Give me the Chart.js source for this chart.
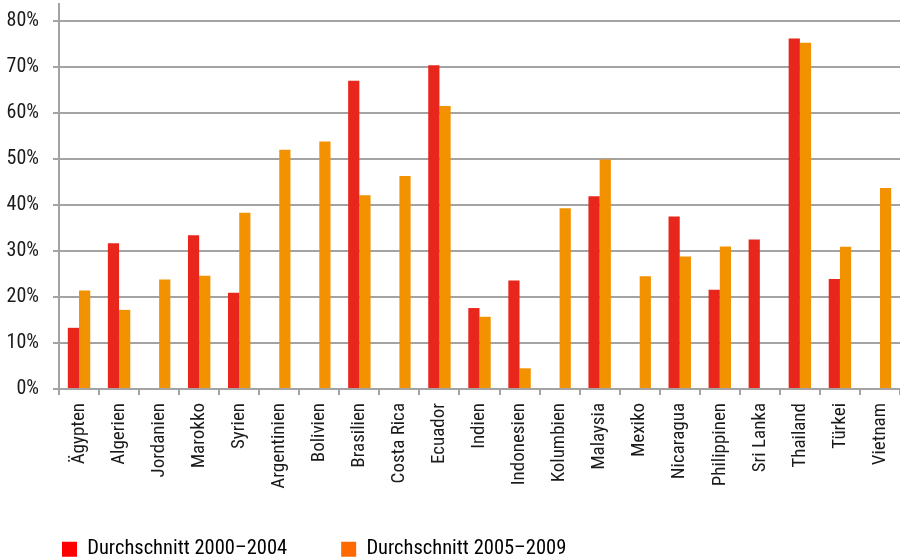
<!DOCTYPE html>
<html>
<head>
<meta charset="utf-8">
<script src="https://cdn.jsdelivr.net/npm/chart.js@4"></script>
<style>
  html, body { margin: 0; padding: 0; background: #fff; }
  #wrap { width: 900px; height: 560px; }
</style>
</head>
<body>
<div id="wrap"><canvas id="c" width="900" height="560"></canvas></div>
<script>
const categories = ["Ägypten","Algerien","Jordanien","Marokko","Syrien","Argentinien","Bolivien","Brasilien","Costa Rica","Ecuador","Indien","Indonesien","Kolumbien","Malaysia","Mexiko","Nicaragua","Philippinen","Sri Lanka","Thailand","Türkei","Vietnam"];
const avg2000_2004 = [13.3, 31.7, null, 33.4, 20.9, null, null, 67.0, null, 70.4, 17.6, 23.6, null, 41.9, null, 37.5, 21.6, 32.5, 76.2, 23.9, null];
const avg2005_2009 = [21.4, 17.2, 23.8, 24.6, 38.3, 52.0, 53.8, 42.1, 46.3, 61.5, 15.7, 4.5, 39.3, 49.9, 24.5, 28.8, 31.0, null, 75.3, 30.9, 43.7];
const seriesNames = ["Durchschnitt 2000–2004", "Durchschnitt 2005–2009"];
const yTicks = [0, 10, 20, 30, 40, 50, 60, 70, 80];

const barColors = ["#e8261c", "#f39200"];
const legendColors = ["#ff0000", "#ff6a00"];
const gridColor = "#a3a3a3";
const textColor = "#1a1a1a";

// position tweaks for the legend block (keeps chart area fixed)
const legendFix = {
  id: "legendFix",
  beforeLayout(chart) {
    const lg = chart.legend;
    if (lg && !lg._patched) {
      const f = lg.fit.bind(lg);
      lg.fit = function () { f(); this.height = 65; };
      lg._patched = true;
    }
  },
  afterLayout(chart) {
    const lg = chart.legend;
    if (!lg) return;
    lg.left = 8; lg.right = 908; lg.width = 900;
    lg.top = 485; lg.bottom = 580; lg.height = 95;
  }
};

new Chart(document.getElementById("c"), {
  type: "bar",
  data: {
    labels: categories,
    datasets: [
      { label: seriesNames[0], data: avg2000_2004, backgroundColor: barColors[0], borderWidth: 0 },
      { label: seriesNames[1], data: avg2005_2009, backgroundColor: barColors[1], borderWidth: 0 }
    ]
  },
  plugins: [legendFix],
  options: {
    responsive: false,
    animation: false,
    devicePixelRatio: 1,
    layout: { autoPadding: false, padding: { left: 0, top: 4, right: -3, bottom: 0 } },
    datasets: { bar: { barPercentage: 1.0, categoryPercentage: 0.56 } },
    plugins: {
      tooltip: { enabled: false },
      legend: {
        position: "bottom",
        align: "start",
        labels: {
          boxWidth: 15,
          boxHeight: 15,
          padding: 54,
          color: textColor,
          font: { family: "Roboto", size: 20.5, weight: "condensed" },
          generateLabels: (chart) => chart.data.datasets.map((ds, i) => ({
            text: ds.label,
            fillStyle: legendColors[i],
            strokeStyle: legendColors[i],
            lineWidth: 0,
            hidden: false,
            datasetIndex: i
          }))
        }
      }
    },
    scales: {
      x: {
        grid: {
          offset: true,
          drawOnChartArea: false,
          drawTicks: true,
          tickLength: 6,
          color: gridColor,
          lineWidth: 2
        },
        border: { display: true, color: gridColor, width: 2 },
        ticks: {
          autoSkip: false,
          minRotation: 90,
          maxRotation: 90,
          padding: 8,
          color: textColor,
          font: { family: "Roboto", size: 19, weight: "condensed" }
        },
        afterFit: (s) => { s.height = 106; s.paddingLeft = 0; s.paddingRight = 0; }
      },
      y: {
        min: 0,
        max: 83.7,
        afterBuildTicks: (s) => { s.ticks = yTicks.map(v => ({ value: v })); },
        grid: {
          color: gridColor,
          lineWidth: 2,
          drawTicks: true,
          tickLength: 6
        },
        border: { display: true, color: gridColor, width: 2 },
        ticks: {
          padding: 14,
          color: textColor,
          font: { family: "Roboto", size: 20, weight: "condensed" },
          callback: (v) => v + "%"
        },
        afterFit: (s) => { s.width = 59; s.paddingTop = 0; s.paddingBottom = 0; }
      }
    }
  }
});
</script>
</body>
</html>
